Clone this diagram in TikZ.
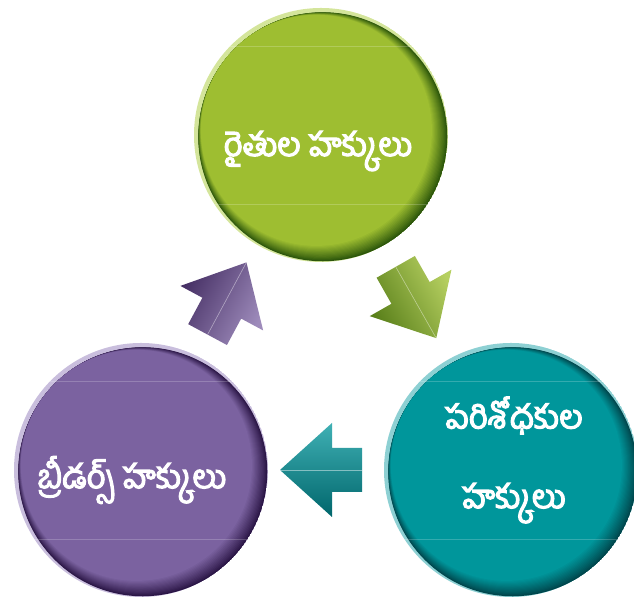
\documentclass[tikz,border=0pt]{standalone}
\usepackage{fontspec}
\newfontfamily\telugu[Script=Telugu,FakeBold=3.5]{Hind Guntur}
\usetikzlibrary{calc}
\definecolor{grn}{HTML}{9EBE31}
\definecolor{grnL}{HTML}{D4E59B}
\definecolor{grnD}{HTML}{2C560B}
\definecolor{tea}{HTML}{00969B}
\definecolor{teaL}{HTML}{8DD0D3}
\definecolor{teaD}{HTML}{00464C}
\definecolor{pur}{HTML}{7B62A0}
\definecolor{purL}{HTML}{C9BEDD}
\definecolor{purD}{HTML}{2B1646}
\begin{document}
\begin{tikzpicture}[x=0.03cm,y=0.03cm,
    rights/.style={text=white,align=center,font=\telugu\fontsize{28}{68}\selectfont},
    bigarrow/.style={insert path={(41,0) -- (-11,47) -- (-11,22) -- (-41,22) -- (-41,-22) -- (-11,-22) -- (-11,-47) -- cycle}},
    axisline/.style={draw=white,opacity=0.45,line width=0.5pt},
    seam/.style={draw=white,opacity=0.2,line width=0.6pt}]
    \useasboundingbox (0,0) rectangle (634,600);
    \coordinate (farmers) at (321,465);
    \coordinate (research) at (511,130);
    \coordinate (breeders) at (141,130);
    \foreach \c/\m in {farmers/grn,research/tea,breeders/pur}{
        \begin{scope}
            \clip (\c) circle (127);
            \fill[\m L] (\c) circle (127);
            \foreach \k in {0,...,14}{
                \pgfmathsetmacro\off{-2.5+9*\k/14}
                \pgfmathtruncatemacro\mix{100*(\k/14)^0.9}
                \fill[\m!\mix!\m D] ($(\c)+(-0.707*\off,0.707*\off)$) circle ({122-\off});
            }
            \path[seam] ($(\c)+(-130,89)$) -- ++(260,0) ($(\c)+(-130,-69)$) -- ++(260,0);
        \end{scope}
    }
    \node[rights] (farmersText) at ($(farmers)+(-3,-16)$) {రైతుల హక్కులు};
    \node[rights] (researchText) at ($(research)+(3,10)$) {పరిశోధకుల\\హక్కులు};
    \node[rights] (breedersText) at ($(breeders)+(-9,-10)$) {బ్రీడర్స్ హక్కులు};
    \begin{scope}[shift={($(farmers)!0.5!(research)$)},rotate=-60.4]
        \shade[bigarrow,top color=grn!55!grnL,middle color=grn,bottom color=grn!40!grnD,shading angle=-60.4];
        \path[axisline] (-41,0) -- (41,0);
    \end{scope}
    \begin{scope}[shift={($(research)!0.5!(breeders)+(-5,0)$)},rotate=180]
        \shade[bigarrow,top color=tea!40!teaD,middle color=tea,bottom color=tea!55!teaL,shading angle=180];
        \path[axisline] (-41,0) -- (41,0);
    \end{scope}
    \begin{scope}[shift={($(breeders)!0.5!(farmers)+(-4,4)$)},rotate=61.7]
        \shade[bigarrow,top color=pur!35!purD,middle color=pur,bottom color=pur!55!purL,shading angle=61.7];
        \path[axisline] (-41,0) -- (41,0);
    \end{scope}
\end{tikzpicture}
\end{document}
